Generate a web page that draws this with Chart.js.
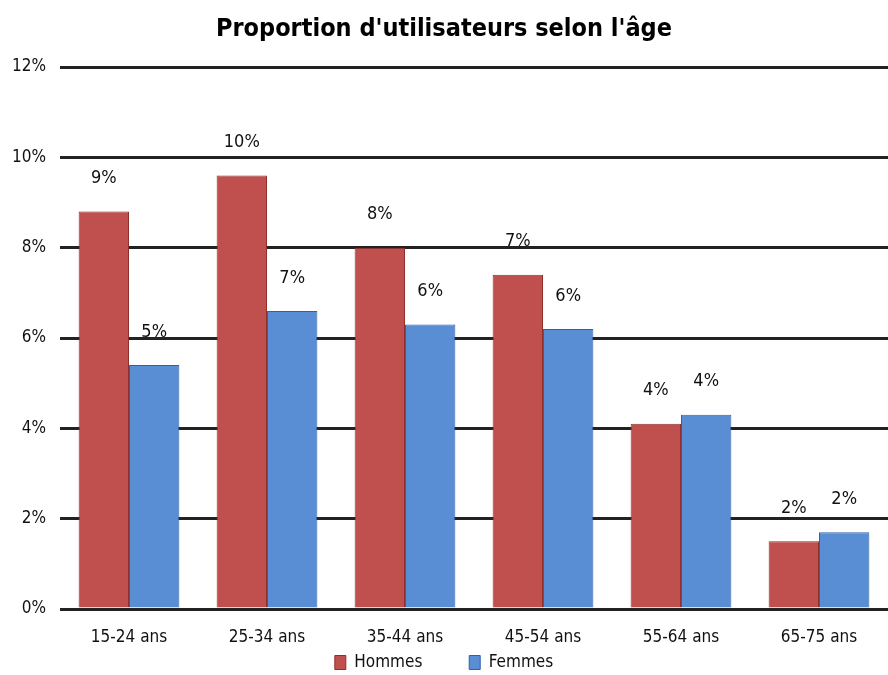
<!DOCTYPE html>
<html>
<head>
<meta charset="utf-8">
<script src="https://cdn.jsdelivr.net/npm/chart.js@4"></script>
<style>
  html, body { margin: 0; padding: 0; background: #fff; }
  #wrap { width: 888px; height: 675px; }
</style>
</head>
<body>
<div id="wrap"><canvas id="bar-chart"></canvas></div>
<script>
// données
const categories = ['15-24 ans', '25-34 ans', '35-44 ans', '45-54 ans', '55-64 ans', '65-75 ans'];
const hommes = [8.8, 9.6, 8.0, 7.4, 4.1, 1.5];
const femmes = [5.4, 6.6, 6.3, 6.2, 4.3, 1.7];
const yTicks = [0, 2, 4, 6, 8, 10, 12];

const police = "'Liberation Sans Narrow', 'DejaVu Sans Condensed', 'Arial Narrow', sans-serif";
Chart.defaults.font.family = police;
Chart.defaults.color = '#111';

// étiquettes au-dessus des barres
const etiquettes = {
    id: 'etiquettes',
    afterDatasetsDraw(chart) {
        const ctx = chart.ctx;
        ctx.save();
        ctx.font = '18px ' + police;
        ctx.fillStyle = '#111';
        ctx.textAlign = 'center';
        ctx.textBaseline = 'middle';
        chart.data.datasets.forEach((ds, i) => {
            chart.getDatasetMeta(i).data.forEach((bar, j) => {
                ctx.fillText(Math.round(ds.data[j]) + '%', bar.x, bar.y - 33);
            });
        });
        ctx.restore();
    }
};

const ctx = document.getElementById('bar-chart').getContext('2d');
new Chart(ctx, {
    type: 'bar',
    data: {
        labels: categories,
        datasets: [{
            label: 'Hommes',
            data: hommes,
            backgroundColor: '#C0504D',
            borderColor: '#8F2F2C',
            borderWidth: 1,
            borderSkipped: 'bottom'
        }, {
            label: 'Femmes',
            data: femmes,
            backgroundColor: '#5A8ED4',
            borderColor: '#2F62A8',
            borderWidth: 1,
            borderSkipped: 'bottom'
        }]
    },
    options: {
        responsive: true,
        maintainAspectRatio: false,
        animation: false,
        layout: { padding: { left: 0, right: 0, top: 0, bottom: 0 } },
        datasets: {
            bar: { categoryPercentage: 0.73, barPercentage: 1.0 }
        },
        plugins: {
            title: {
                display: true,
                text: "Proportion d'utilisateurs selon l'âge",
                font: { size: 25, weight: 'bold', family: police },
                color: '#000',
                padding: { top: 14, bottom: 23 }
            },
            legend: {
                position: 'bottom',
                maxHeight: 29,
                labels: {
                    boxWidth: 11,
                    boxHeight: 14,
                    padding: 8,
                    font: { size: 17 },
                    color: '#111',
                    // espaces finaux pour écarter les deux entrées
                    generateLabels(chart) {
                        const items = Chart.defaults.plugins.legend.labels.generateLabels(chart);
                        items.forEach((it, i) => { if (i === 0) it.text = it.text + '        '; });
                        return items;
                    }
                }
            },
            tooltip: { enabled: false }
        },
        scales: {
            x: {
                grid: { display: false, drawTicks: false },
                border: { display: false },
                ticks: { font: { size: 17 }, padding: 18, color: '#111' },
                afterFit(scale) { scale.height = 37; }
            },
            y: {
                min: 0,
                max: 12,
                afterBuildTicks(scale) { scale.ticks = yTicks.map(v => ({ value: v })); },
                grid: { color: '#222', lineWidth: 3, drawTicks: false },
                border: { display: false },
                ticks: {
                    font: { size: 17 },
                    padding: 14,
                    color: '#111',
                    callback: v => v + '%'
                },
                afterFit(scale) { scale.width = 60; }
            }
        }
    },
    plugins: [etiquettes]
});
</script>
</body>
</html>
